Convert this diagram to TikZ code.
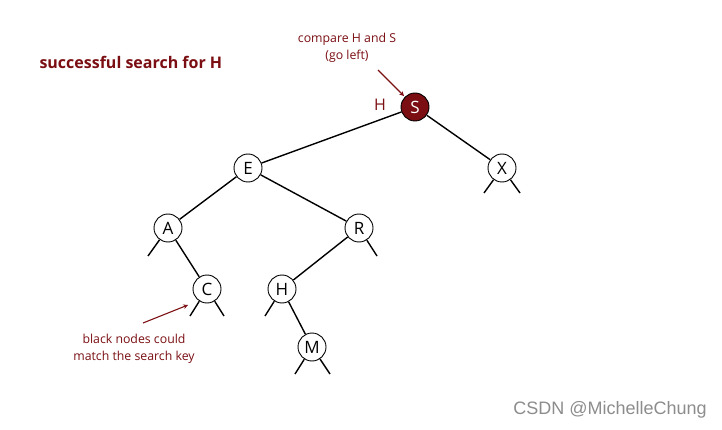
\documentclass[tikz,border=0pt]{standalone}
\usepackage{fontspec}
\setmainfont{Open Sans}
\newfontfamily\wmfont{Liberation Sans}
\usetikzlibrary{arrows,positioning}
\definecolor{bstred}{HTML}{7A0E12}

\begin{document}
\begin{tikzpicture}[
    x=1pt, y=-1pt,
    key/.style={circle, draw, fill=white, line width=0.9pt, minimum size=28pt, inner sep=0pt, font=\fontsize{17}{17}\selectfont},
    hit/.style={key, fill=bstred, text=white},
    link/.style={line width=1.4pt},
    note/.style={text=bstred, font=\fontsize{12.3}{16.5}\selectfont, align=center},
    pointer/.style={->, >=stealth, line width=1.1pt, draw=bstred}
]
    \useasboundingbox (0,0) rectangle (722,430);

    \node[anchor=west, text=bstred, font=\fontsize{16}{16}\selectfont\bfseries] (title) at (36,62) {successful search for H};

    % the tree
    \node[hit] (S) at (415,107) {S};
    \node[key] (E) at (248,168) {E};
    \node[key] (X) at (502,168) {X};
    \node[key] (A) at (168,228) {A};
    \node[key] (R) at (359,228) {R};
    \node[key] (C) at (207,289) {C};
    \node[key] (H) at (282,289) {H};
    \node[key] (M) at (312,347) {M};

    \draw[link] (S) -- (E);
    \draw[link] (S) -- (X);
    \draw[link] (E) -- (A);
    \draw[link] (E) -- (R);
    \draw[link] (A) -- (C);
    \draw[link] (R) -- (H);
    \draw[link] (H) -- (M);

    % null links
    \coordinate (Anull) at (148,256);
    \coordinate (Cleft) at (190,316);
    \coordinate (Cright) at (224,316);
    \coordinate (Hnull) at (265,316);
    \coordinate (Rnull) at (377,256);
    \coordinate (Mleft) at (295,374);
    \coordinate (Mright) at (330,374);
    \coordinate (Xleft) at (484,193);
    \coordinate (Xright) at (520,193);
    \draw[link] (A) -- (Anull);
    \draw[link] (C) -- (Cleft);
    \draw[link] (C) -- (Cright);
    \draw[link] (H) -- (Hnull);
    \draw[link] (R) -- (Rnull);
    \draw[link] (M) -- (Mleft);
    \draw[link] (M) -- (Mright);
    \draw[link] (X) -- (Xleft);
    \draw[link] (X) -- (Xright);

    % annotations
    \node[note] (compare) at (347,48) {compare H and S\\(go left)};
    \coordinate (cmptail) at (378,70);
    \draw[pointer, shorten >=1pt] (cmptail) -- (S);
    \node[text=bstred, font=\fontsize{16}{16}\selectfont] (query) at (380,105) {H};

    \node[note] (black) at (134,349) {black nodes could\\match the search key};
    \coordinate (blktail) at (143,323);
    \coordinate (blkhead) at (188,305);
    \draw[pointer] (blktail) -- (blkhead);

    \node[text=black!45, font=\wmfont\fontsize{18}{18}\selectfont] (mark) at (610,410) {CSDN @MichelleChung};
\end{tikzpicture}
\end{document}
